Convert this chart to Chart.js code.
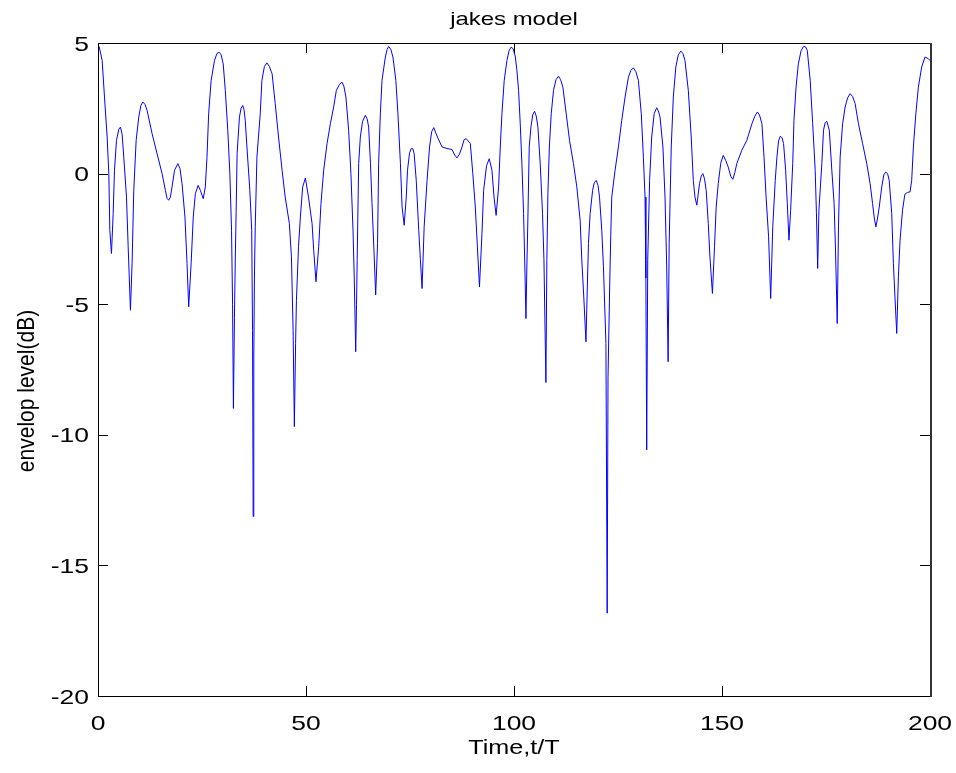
<!DOCTYPE html>
<html>
<head>
<meta charset="utf-8">
<script src="https://cdn.jsdelivr.net/npm/chart.js@4.4.1/dist/chart.umd.min.js"></script>
<style>
html,body{margin:0;padding:0;background:#fff;}
#wrap{width:956px;height:773px;}
</style>
</head>
<body>
<div id="wrap"><canvas id="c" width="956" height="773"></canvas></div>
<script>
const chartTitle = "jakes model";
const xTitle = "Time,t/T";
const yTitle = "envelop level(dB)";
const xTicks = [0, 50, 100, 150, 200];
const yTicks = [-20, -15, -10, -5, 0, 5];

const times = [
0,0.3,1.0,1.56,2.2,2.6,2.84,3.24,3.65,3.96,4.44,5.0,5.4,5.8,6.2,6.85,7.25,7.8,8.2,8.6,
9.17,9.8,10.3,10.77,11.3,11.8,13.0,14.2,15.4,16.2,16.6,17.0,17.4,17.8,18.4,19.2,19.7,20.2,20.9,21.4,
21.8,22.4,22.9,23.4,24.07,24.6,25.3,25.8,26.2,26.6,27.2,28.0,28.6,29.1,29.6,30.1,30.6,31.2,31.7,32.1,
32.35,32.55,32.8,33.0,33.2,33.44,34.0,34.4,34.8,35.1,35.4,35.8,36.5,36.95,37.15,37.3,37.45,37.6,37.8,38.2,
39.0,39.4,40.0,40.6,41.2,41.85,42.6,43.4,44.25,45.0,46.0,46.5,46.9,47.2,47.5,47.7,48.2,48.65,49.2,49.85,
50.6,51.46,51.85,52.4,53.05,53.6,54.25,55.06,55.86,56.65,57.3,58.0,58.66,59.1,59.6,60.25,60.8,61.3,61.6,61.95,
62.15,62.3,62.66,63.06,63.6,64.26,64.7,65.06,65.5,65.87,66.3,66.75,67.2,67.46,67.87,68.27,69.07,69.5,69.87,70.4,
70.9,71.6,72.1,72.7,73.1,73.6,74.1,74.4,74.9,75.3,75.7,76.0,76.5,77.1,77.5,77.9,78.4,79.1,79.7,80.2,
80.7,81.6,82.7,83.9,85.1,85.8,86.3,86.9,87.5,88.0,88.5,89.5,90.1,90.7,91.2,91.7,92.3,92.7,93.4,94.05,
94.7,95.2,95.7,96.3,96.7,97.1,97.65,98.3,98.8,99.3,99.8,100.3,100.7,101.1,101.5,101.9,102.3,102.6,102.87,103.1,
103.3,103.66,104.07,104.5,104.94,105.35,105.75,106.3,106.86,107.2,107.67,107.9,108.15,108.5,108.95,109.5,110.1,110.7,111.2,111.75,
112.55,113.35,114.3,115.1,115.9,116.3,116.8,117.3,117.6,117.9,118.3,118.9,119.3,119.76,120.2,120.56,121.1,121.5,122.1,122.4,
122.6,123.0,123.25,123.5,124.3,125.1,125.9,126.7,127.5,128.1,128.7,129.3,129.9,130.6,131.1,131.5,131.7,131.9,132.15,132.6,
133.1,133.7,134.3,134.7,135.1,135.8,136.3,136.7,137.05,137.3,137.8,138.3,138.9,139.5,140.1,140.6,141.1,141.9,142.6,143.1,
143.5,143.95,144.6,145.0,145.4,145.8,146.2,146.7,147.1,147.7,148.2,148.6,149.1,149.7,150.3,150.9,151.5,152.1,152.6,153.1,
153.55,154.75,155.96,157.2,157.9,158.5,159.0,159.6,160.1,160.6,161.2,161.7,162.2,162.8,163.2,163.6,164.0,164.4,164.8,165.3,
165.7,166.1,166.5,167.0,167.3,167.8,168.35,169.0,169.6,170.1,170.5,171.2,171.8,172.4,172.7,173.0,173.3,174.0,174.4,174.8,
175.2,175.8,176.4,176.95,177.3,177.7,178.0,178.4,179.0,179.6,180.2,180.8,181.4,182.0,182.8,183.8,184.8,185.6,186.2,186.6,
187.0,187.4,187.8,188.4,188.9,189.35,189.8,190.2,190.8,191.2,191.6,192.0,192.4,192.8,193.4,193.96,194.6,195.2,195.6,196.0,
196.6,197.2,198.0,198.8,199.6,200.0
];
const levels = [
4.9,4.85,4.33,2.93,1.4,0,-2.17,-3.06,-1.52,0.13,1.27,1.7,1.78,1.5,0.63,-0.9,-2.8,-5.23,-3.4,-0.64,
1.27,2.17,2.6,2.74,2.65,2.42,1.53,0.76,0,-0.64,-0.95,-1.02,-0.9,-0.51,0.13,0.38,0.2,-0.38,-1.66,-3.44,
-5.1,-3.4,-1.66,-0.77,-0.45,-0.64,-0.96,-0.51,0.63,2.29,3.57,4.33,4.6,4.65,4.55,4.2,3.19,1.66,0,-2.17,
-5.0,-8.99,-5.5,-3.3,-1.5,0.76,2.17,2.5,2.61,2.45,2.04,1.02,-0.64,-2.17,-6.0,-13.13,-7.1,-4.0,-2.04,0.63,
2.29,3.57,4.1,4.24,4.1,3.82,2.68,1.4,0.13,-0.9,-1.91,-3.19,-6.0,-9.69,-6.5,-4.85,-2.8,-1.66,-0.51,-0.17,
-0.9,-1.91,-2.93,-4.14,-2.8,-1.15,0.13,1.15,1.91,2.55,3.19,3.4,3.5,3.35,2.93,1.66,0,-2.17,-4.0,-6.82,
-5.0,-3.3,0.38,1.4,2.0,2.23,2.1,1.78,0.38,-1.15,-2.8,-4.65,-2.68,0.38,2.29,3.57,4.46,4.75,4.87,4.75,
4.46,3.57,2.29,0.38,-1.28,-1.98,-0.9,0.13,0.8,0.96,0.95,0.76,-0.26,-2.17,-3.3,-4.4,-2.04,-0.26,1.02,1.6,
1.76,1.4,1.02,0.96,0.92,0.7,0.6,0.75,1.02,1.3,1.34,1.15,0,-1.28,-2.8,-4.34,-2.29,-0.64,0.3,0.57,
0.13,-0.9,-1.6,-0.51,1.02,2.29,3.57,4.33,4.7,4.84,4.78,4.5,3.95,3.19,1.91,0.38,-1.53,-3.5,-5.55,-3.5,
-2.04,1.02,1.78,2.25,2.39,2.2,1.78,0.38,-1.53,-3.3,-8.0,-3.3,-0.76,1.02,2.29,3.19,3.6,3.73,3.6,3.31,
2.29,1.27,0.38,-0.51,-1.79,-3.3,-4.8,-6.44,-4.5,-2.68,-1.53,-0.64,-0.35,-0.26,-0.45,-0.9,-2.17,-3.57,-6.5,-16.83,
-7.78,-4.34,-2.42,-0.9,0.13,1.02,2.04,2.93,3.69,3.95,4.05,3.9,3.57,2.29,0.63,-0.9,-4.0,-10.58,-3.3,-0.26,
1.4,2.3,2.52,2.4,2.17,1.02,-0.9,-3.5,-7.2,-2.68,1.02,2.93,4.08,4.55,4.69,4.6,4.33,3.19,1.4,-0.26,
-0.9,-1.21,-0.38,-0.1,0.0,-0.2,-0.64,-1.91,-3.19,-4.59,-2.8,-1.28,-0.38,0.4,0.7,0.5,0.25,-0.1,-0.22,0.05,
0.38,0.89,1.27,1.91,2.2,2.36,2.25,1.91,0.63,-0.9,-2.42,-4.78,-2.04,-0.26,0.63,1.25,1.43,1.38,1.15,0.13,
-1.15,-2.55,-1.4,0.38,2.04,3.31,4.2,4.7,4.87,4.85,4.72,3.57,1.91,0.13,-1.5,-3.63,-1.4,0.38,1.66,1.95,
2.0,1.66,0.13,-1.15,-3.0,-5.74,-2.04,0.63,1.91,2.55,2.9,3.06,2.95,2.68,1.91,1.15,0.38,-0.38,-1.15,-1.7,
-2.04,-1.7,-1.28,-0.51,-0.05,0.06,0.0,-0.26,-1.53,-3.44,-4.8,-6.12,-3.95,-2.55,-1.4,-0.79,-0.72,-0.7,-0.26,1.02,
2.29,3.31,4.08,4.46,4.4,4.33
];

const FONT = "'Liberation Sans', Arial, Helvetica, sans-serif";
const STRETCH = 1.26;
const points = times.map((t, i) => ({x: t, y: levels[i]}));

function wideText(ctx, text, x, y, align, size) {
  ctx.save();
  ctx.font = size + "px " + FONT;
  ctx.translate(x, y);
  ctx.scale(STRETCH, 1);
  ctx.textAlign = align;
  ctx.textBaseline = 'alphabetic';
  ctx.fillText(text, 0, 0);
  ctx.restore();
}

const framePlugin = {
  id: 'frame',
  afterDraw(chart) {
    const {ctx, chartArea: a, scales} = chart;
    const TL = 10;
    ctx.save();
    ctx.strokeStyle = '#000';
    ctx.lineWidth = 1;
    ctx.beginPath();
    yTicks.forEach(v => {
      const y = Math.round(scales.y.getPixelForValue(v)) + 0.5;
      ctx.moveTo(a.left, y); ctx.lineTo(a.left + TL, y);
      ctx.moveTo(a.right, y); ctx.lineTo(a.right - TL, y);
    });
    xTicks.forEach(v => {
      const x = Math.round(scales.x.getPixelForValue(v)) + 0.5;
      ctx.moveTo(x, a.bottom); ctx.lineTo(x, a.bottom - TL);
      ctx.moveTo(x, a.top); ctx.lineTo(x, a.top + TL);
    });
    ctx.stroke();
    ctx.strokeRect(Math.round(a.left) + 0.5, Math.round(a.top) + 0.5,
                   Math.round(a.right - a.left), Math.round(a.bottom - a.top));
    ctx.strokeStyle = '#333';
    ctx.lineWidth = 2;
    ctx.beginPath();
    ctx.moveTo(Math.round(a.right) + 1, a.top);
    ctx.lineTo(Math.round(a.right) + 1, a.bottom + 1);
    ctx.stroke();
    ctx.fillStyle = '#000';
    // tick labels, positioned by the library's scales
    yTicks.forEach(v => {
      wideText(ctx, String(v), a.left - 9, scales.y.getPixelForValue(v) + 7.5, 'right', 21);
    });
    xTicks.forEach(v => {
      wideText(ctx, String(v), scales.x.getPixelForValue(v), a.bottom + 34, 'center', 21);
    });
    // titles
    wideText(ctx, chartTitle, (a.left + a.right) / 2, 25, 'center', 19);
    wideText(ctx, xTitle, (a.left + a.right) / 2, 754, 'center', 20);
    ctx.save();
    ctx.font = "21px " + FONT;
    ctx.translate(28, 391);
    ctx.rotate(-Math.PI / 2);
    ctx.scale(1, 1.12);
    ctx.textAlign = 'center';
    ctx.textBaseline = 'middle';
    ctx.fillText(yTitle, 0, 0);
    ctx.restore();
    ctx.restore();
  }
};

new Chart(document.getElementById('c'), {
  type: 'line',
  data: {
    datasets: [{
      label: 'envelope',
      data: points,
      borderColor: '#0000ff',
      borderWidth: 1,
      pointRadius: 0,
      tension: 0,
      fill: false
    }]
  },
  options: {
    responsive: false,
    animation: false,
    events: [],
    layout: {padding: {left: 0, right: 26, top: 43, bottom: 0}},
    plugins: {legend: {display: false}, title: {display: false}, tooltip: {enabled: false}},
    scales: {
      x: {
        type: 'linear', min: 0, max: 200,
        afterBuildTicks: s => { s.ticks = xTicks.map(v => ({value: v})); },
        afterFit: s => { s.height = 77; },
        grid: {display: false, drawTicks: false},
        border: {display: false},
        ticks: {display: false},
        title: {display: false, text: xTitle}
      },
      y: {
        type: 'linear', min: -20, max: 5,
        afterBuildTicks: s => { s.ticks = yTicks.map(v => ({value: v})); },
        afterFit: s => { s.width = 98; },
        grid: {display: false, drawTicks: false},
        border: {display: false},
        ticks: {display: false},
        title: {display: false, text: yTitle}
      }
    }
  },
  plugins: [framePlugin]
});
</script>
</body>
</html>
